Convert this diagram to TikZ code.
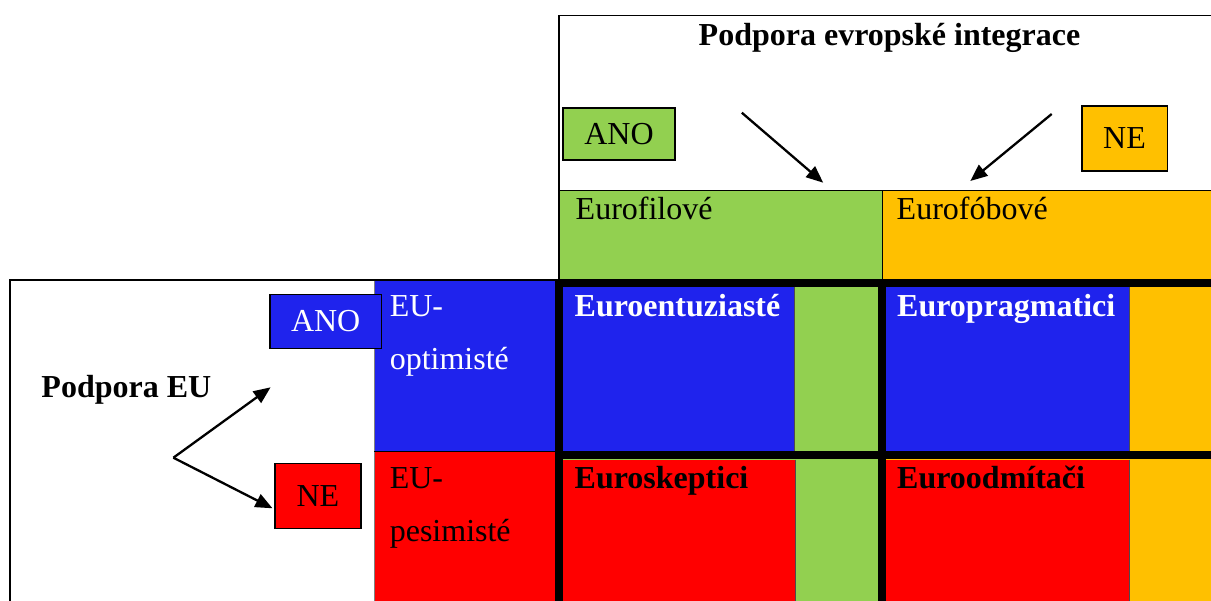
\documentclass[tikz,border=0pt]{standalone}
\usepackage{fontspec}
\setmainfont{Liberation Serif}
\usetikzlibrary{arrows.meta}
\definecolor{cgreen}{HTML}{92D050}
\definecolor{corange}{HTML}{FFC000}
\definecolor{cblue}{RGB}{31,35,237}
\definecolor{cred}{HTML}{FF0000}
\begin{document}
\begin{tikzpicture}[x=1pt,y=-1pt,
  lbl/.style={font=\fontsize{32}{38}\selectfont, inner sep=0pt, anchor=base west},
  blbl/.style={lbl, font=\fontsize{32}{38}\selectfont\bfseries},
  keybox/.style={draw=black, line width=1.5pt, inner sep=0pt, font=\fontsize{32}{38}\selectfont},
  arr/.style={line width=2.3pt, -{Triangle[length=17pt,width=14pt]}},
  thick line/.style={line width=8pt},
  thin line/.style={line width=1.5pt}
]
\useasboundingbox (0,0) rectangle (1211,601);
\clip (0,0) rectangle (1211,601);
\fill[white] (0,0) rectangle (1211,601);
% colored areas
\fill[cgreen] (559,190.7) rectangle (882.6,601);
\fill[corange] (882.6,190.7) rectangle (1211,601);
\fill[cblue] (374,281) rectangle (555.7,451.5);
\fill[cred] (374,451.5) rectangle (555.7,601);
\fill[cblue] (563,287) rectangle (794.5,451);
\fill[cred] (563,459.7) rectangle (795.8,601);
\fill[cblue] (886,287) rectangle (1129.7,451);
\fill[cred] (886,459.7) rectangle (1129,601);
% thin lines
\draw[thin line] (1215,15.7) -- (559,15.7) -- (559,280);
\draw[thin line] (559,190.7) -- (1215,190.7);
\draw[thin line] (882.6,190.7) -- (882.6,280);
\draw[thin line] (10,601) -- (10,280) -- (559,280);
\draw[line width=1pt, gray] (374,281) -- (374,601);
\draw[line width=1pt] (374,451.5) -- (555.7,451.5);
\draw[line width=1pt, black!70] (794.5,287) -- (794.5,451);
\draw[line width=1pt, black!70] (795.8,459.7) -- (795.8,601);
\draw[line width=1pt, black!70] (1129.7,287) -- (1129.7,451);
\draw[line width=1pt, black!70] (1129,459.7) -- (1129,601);
% thick grid
\draw[thick line] (555.3,283.3) -- (1215,283.3);
\draw[thick line] (555.3,455.4) -- (1215,455.4);
\draw[thick line] (559.3,279.3) -- (559.3,605);
\draw[thick line] (882.2,279.3) -- (882.2,605);
% titles
\node[blbl, anchor=base] (title) at (889.5,45.7) {Podpora evropské integrace};
\node[blbl] (podporaeu) at (41.3,397.7) {Podpora EU};
% key boxes
\node[keybox, fill=cgreen, minimum width=112pt, minimum height=52pt] (anoG) at (619,134) {ANO};
\node[keybox, fill=corange, minimum width=85.5pt, minimum height=65pt] (neO) at (1124.5,138.5) {NE};
\node[keybox, fill=cblue, text=white, minimum width=111.8pt, minimum height=54pt] (anoB) at (325.7,321.3) {ANO};
\node[keybox, fill=cred, minimum width=86pt, minimum height=65pt] (neR) at (317.9,496) {NE};
% column / row labels
\node[lbl] (filove) at (575.5,220) {Eurofilové};
\node[lbl] (fobove) at (896.5,220) {Eurofóbové};
\node[lbl, text=white] (opt1) at (389.6,316.7) {EU-};
\node[lbl, text=white] (opt2) at (389.6,370) {optimisté};
\node[lbl] (pes1) at (389.6,488.3) {EU-};
\node[lbl] (pes2) at (389.6,541.7) {pesimisté};
% cells
\node[blbl, text=white] (entuz) at (574.5,316.7) {Euroentuziasté};
\node[blbl, text=white] (pragm) at (897,316.7) {Europragmatici};
\node[blbl] (skept) at (574.5,488.3) {Euroskeptici};
\node[blbl] (odmit) at (897,488.3) {Euroodmítači};
% arrows
\coordinate (a1s) at (741.8,112.7);
\coordinate (a1e) at (823.2,182.7);
\coordinate (a2s) at (1051.7,114);
\coordinate (a2e) at (970.3,181);
\coordinate (fork) at (173.4,457.7);
\coordinate (up) at (270.6,387.3);
\coordinate (down) at (272.5,508.3);
\draw[arr] (a1s) -- (a1e);
\draw[arr] (a2s) -- (a2e);
\draw[arr] (fork) -- (up);
\draw[arr] (fork) -- (down);
\end{tikzpicture}
\end{document}
